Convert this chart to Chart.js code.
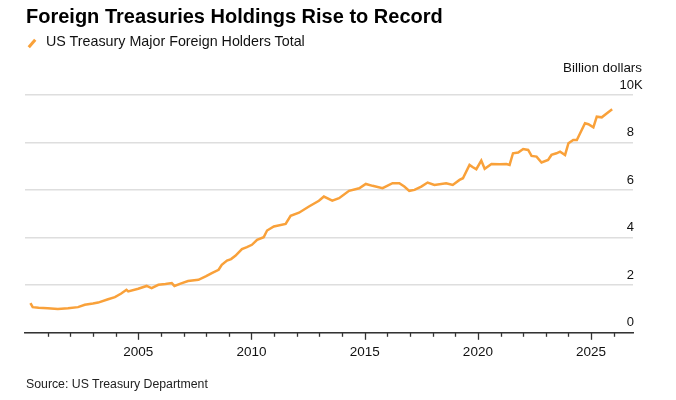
<!DOCTYPE html>
<html>
<head>
<meta charset="utf-8">
<script src="https://cdn.jsdelivr.net/npm/chart.js@4/dist/chart.umd.min.js"></script>
<style>
    body { margin: 0; background: #fff; font-family: "Liberation Sans", Arial, sans-serif; }
    #wrap { position: relative; width: 676px; height: 400px; }
    #chart { position: absolute; left: 0; top: 0; }
    .title { position: absolute; left: 26px; top: 5px; font-size: 20px; font-weight: bold; color: #000; white-space: nowrap; }
    .legend { position: absolute; left: 46px; top: 33px; font-size: 14.3px; color: #111; white-space: nowrap; }
    .swatch { position: absolute; left: 27px; top: 42px; width: 10px; height: 3px; background: #f9a13a; transform: rotate(-50deg); }
    .source { position: absolute; left: 26px; top: 377px; font-size: 12.3px; color: #222; white-space: nowrap; }
</style>
</head>
<body>
<div id="wrap">
    <canvas id="chart" width="676" height="400"></canvas>
    <div class="title">Foreign Treasuries Holdings Rise to Record</div>
    <div class="swatch"></div>
    <div class="legend">US Treasury Major Foreign Holders Total</div>
    <div class="source">Source: US Treasury Department</div>
</div>
<script>
    // month positions as decimal years, values in thousand billion dollars
    const years = [
        2000.24, 2000.34, 2000.6, 2001.0, 2001.45, 2001.9, 2002.34, 2002.64, 2003.0, 2003.23,
        2003.67, 2003.97, 2004.25, 2004.48, 2004.56, 2005.0, 2005.37, 2005.59, 2005.89, 2006.2,
        2006.48, 2006.6, 2006.9, 2007.2, 2007.66, 2008.0, 2008.25, 2008.55, 2008.69, 2008.92,
        2009.1, 2009.29, 2009.58, 2009.8, 2010.02, 2010.25, 2010.54, 2010.69, 2010.99, 2011.51,
        2011.73, 2012.1, 2012.54, 2012.98, 2013.2, 2013.57, 2013.87, 2014.31, 2014.76, 2015.05,
        2015.35, 2015.79, 2016.23, 2016.53, 2016.75, 2016.97, 2017.2, 2017.5, 2017.78, 2018.08,
        2018.6, 2018.89, 2019.19, 2019.34, 2019.63, 2019.78, 2019.93, 2020.15, 2020.3, 2020.6,
        2020.96, 2021.26, 2021.4, 2021.55, 2021.78, 2022.0, 2022.22, 2022.37, 2022.59, 2022.81,
        2023.1, 2023.25, 2023.47, 2023.63, 2023.85, 2024.0, 2024.21, 2024.37, 2024.73, 2024.88,
        2025.1, 2025.25, 2025.47, 2025.7, 2025.93
    ];
    const holdings = [
        1.25, 1.08, 1.05, 1.03, 1.00, 1.03, 1.08, 1.18, 1.23, 1.27,
        1.41, 1.50, 1.65, 1.81, 1.74, 1.85, 1.97, 1.88, 2.02, 2.05,
        2.09, 1.97, 2.08, 2.18, 2.23, 2.38, 2.51, 2.65, 2.86, 3.04,
        3.10, 3.24, 3.52, 3.60, 3.70, 3.91, 4.02, 4.30, 4.47, 4.58,
        4.92, 5.05, 5.31, 5.55, 5.73, 5.56, 5.66, 5.97, 6.08, 6.26,
        6.18, 6.08, 6.29, 6.29, 6.15, 5.97, 6.01, 6.15, 6.32, 6.22,
        6.29, 6.22, 6.43, 6.50, 7.06, 6.96, 6.88, 7.24, 6.90, 7.10,
        7.09, 7.10, 7.06, 7.55, 7.58, 7.73, 7.69, 7.44, 7.41, 7.16,
        7.27, 7.48, 7.55, 7.62, 7.48, 7.97, 8.11, 8.11, 8.81, 8.77,
        8.64, 9.09, 9.06, 9.23, 9.40
    ];
    const yearLabels = [2005, 2010, 2015, 2020, 2025];
    const yTicks = [0, 2, 4, 6, 8, 10];

    const points = years.map((y, i) => ({ x: y, y: holdings[i] }));

    // right side labels sit above the gridlines, plus the x tick marks
    const axisDecor = {
        id: 'axisDecor',
        afterDraw(chart) {
            const ctx = chart.ctx;
            const xs = chart.scales.x;
            const ys = chart.scales.y;
            const area = chart.chartArea;
            ctx.save();
            ctx.strokeStyle = '#333';
            ctx.lineWidth = 1.3;
            for (let yr = 2001; yr <= 2026; yr++) {
                const px = Math.round(xs.getPixelForValue(yr)) + 0.5;
                const len = yearLabels.includes(yr) ? 7 : 4;
                ctx.beginPath();
                ctx.moveTo(px, area.bottom);
                ctx.lineTo(px, area.bottom + len);
                ctx.stroke();
            }
            ctx.fillStyle = '#111';
            ctx.font = '13px "Liberation Sans", Arial, sans-serif';
            ctx.textBaseline = 'alphabetic';
            const lx = area.right + 1;
            yTicks.forEach(v => {
                const py = ys.getPixelForValue(v) - 6.5;
                ctx.textAlign = 'right';
                ctx.fillText(String(v), lx, py);
                if (v === 10) {
                    ctx.textAlign = 'left';
                    ctx.fillText('K', lx, py);
                }
            });
            ctx.font = '13.4px "Liberation Sans", Arial, sans-serif';
            ctx.textAlign = 'right';
            ctx.fillText('Billion dollars', lx + 8, ys.getPixelForValue(10) - 23);
            ctx.restore();
        }
    };

    const ctx = document.getElementById('chart').getContext('2d');
    const chart = new Chart(ctx, {
        type: 'line',
        data: {
            datasets: [{
                label: 'US Treasury Major Foreign Holders Total',
                data: points,
                borderColor: '#f9a13a',
                borderWidth: 2.5,
                pointRadius: 0,
                tension: 0,
                fill: false
            }]
        },
        options: {
            responsive: false,
            animation: false,
            layout: { padding: { left: 25, right: 43, top: 95, bottom: 29 } },
            plugins: {
                legend: { display: false },
                tooltip: { enabled: false }
            },
            scales: {
                x: {
                    type: 'linear',
                    min: 2000,
                    max: 2026.85,
                    grid: { display: false, drawTicks: false },
                    border: { display: true, color: '#333', width: 1.5 },
                    ticks: {
                        stepSize: 1,
                        autoSkip: false,
                        maxRotation: 0,
                        padding: 11,
                        color: '#111',
                        font: { family: '"Liberation Sans", Arial, sans-serif', size: 13.5 },
                        callback: v => yearLabels.includes(v) ? String(v) : ''
                    }
                },
                y: {
                    position: 'right',
                    min: 0,
                    max: 10,
                    ticks: { display: false, stepSize: 2 },
                    grid: { color: '#dedede', lineWidth: 1.5, drawTicks: false },
                    border: { display: false }
                }
            }
        },
        plugins: [axisDecor]
    });
</script>
</body>
</html>
